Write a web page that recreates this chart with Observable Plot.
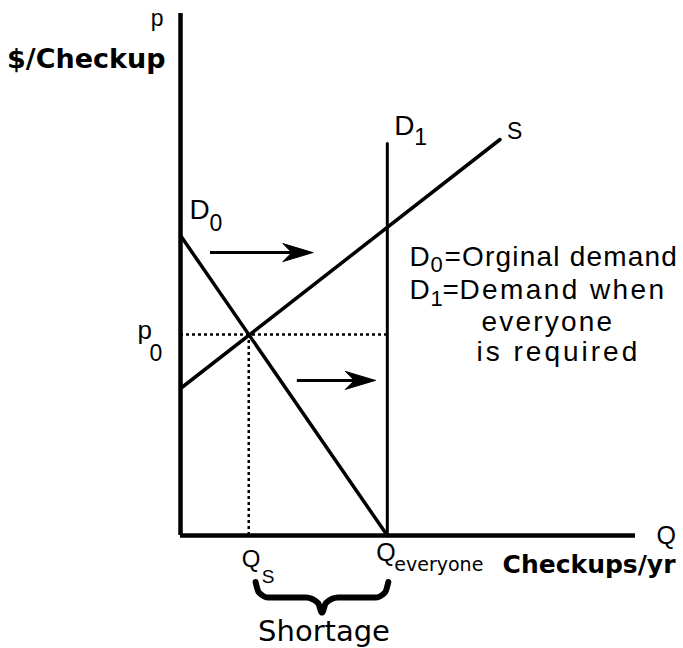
<!DOCTYPE html>
<html><head><meta charset="utf-8">
<script src="https://cdn.jsdelivr.net/npm/d3@7"></script>
<script src="https://cdn.jsdelivr.net/npm/@observablehq/plot@0.6"></script>
<style>html,body{margin:0;padding:0;background:#fff} #chart svg{display:block}</style>
</head><body><div id="chart"></div>
<script>
// ---- data (economic units) ----
const qMax = 22;          // end of quantity axis
const pMax = 17.4;        // top of price axis
const qS = 3.3;           // quantity supplied at p0
const qEveryone = 10;     // quantity demanded when everyone is required
const p0 = 6.7;           // equilibrium price
const supplyCurve = [{q: 0, p: 4.9}, {q: 15.45, p: 13.2}];
const demandOriginal = [{q: 0, p: 10}, {q: 10, p: 0}];
const demandEveryone = [{q: 10, p: 0}, {q: 10, p: 13.07}];
const shiftArrows = [{from: 1.45, to: 6.4, p: 9.43}, {from: 5.65, to: 9.42, p: 5.17}];
const legendLines = ["=Orginal demand", "Demand when", "everyone", "is required"];
// brace profile: fraction along the span, offset below the axis
const braceProfile = [[0, -1.55], [0.025, -1.9], [0.1, -2.07], [0.38, -2.07], [0.47, -2.25], [0.5, -2.57], [0.53, -2.25], [0.62, -2.07], [0.9, -2.07], [0.975, -1.9], [1, -1.55]];

// ---- derived geometry ----
const braceStart = qS + 0.33, braceEnd = qEveryone + 0.05;
const bracePts = braceProfile.map(([t, o]) => ({q: braceStart + t * (braceEnd - braceStart), p: o}));
const headL = 1.45, headW = 0.3;
const heads = shiftArrows.flatMap((a, i) => [
  {z: i, q: a.to, p: a.p}, {z: i, q: a.to - headL, p: a.p + headW},
  {z: i, q: a.to - 0.7 * headL, p: a.p}, {z: i, q: a.to - headL, p: a.p - headW}, {z: i, q: a.to, p: a.p}
]);

const F = "Liberation Sans", FB = "DejaVu Sans";
function label(q, p, text, opts) {
  return Plot.text([{q, p, text}], Object.assign({x: "q", y: "p", text: "text", textAnchor: "start", lineAnchor: "bottom", fill: "black", fontFamily: F}, opts));
}
function note(text, dx, dy, opts) {
  return Plot.text([text], Object.assign({frameAnchor: "top-left", text: d => d, dx, dy, textAnchor: "start", lineAnchor: "bottom", fill: "black", fontFamily: F, fontSize: 28}, opts));
}

const chart = Plot.plot({
  width: 683, height: 648,
  marginLeft: 180, marginRight: 48, marginTop: 13, marginBottom: 113,
  x: {domain: [0, qMax], axis: null},
  y: {domain: [0, pMax], axis: null},
  style: {background: "white", color: "black", fontFamily: F, overflow: "visible"},
  marks: [
    // dotted guides
    Plot.ruleY([p0], {x1: 0, x2: qEveryone, stroke: "black", strokeWidth: 2.5, strokeDasharray: "3,3"}),
    Plot.ruleX([qS], {y1: 0, y2: p0, stroke: "black", strokeWidth: 2.5, strokeDasharray: "3,3"}),
    // curves
    Plot.line(supplyCurve, {x: "q", y: "p", stroke: "black", strokeWidth: 3.5}),
    Plot.line(demandOriginal, {x: "q", y: "p", stroke: "black", strokeWidth: 3.5}),
    Plot.line(demandEveryone, {x: "q", y: "p", stroke: "black", strokeWidth: 3}),
    // axes
    Plot.ruleY([0], {x1: 0, x2: qMax, stroke: "black", strokeWidth: 4.5}),
    Plot.ruleX([0], {y1: 0, y2: pMax, stroke: "black", strokeWidth: 4.5}),
    // shift arrows
    Plot.ruleY(shiftArrows, {y: "p", x1: "from", x2: d => d.to - 1, stroke: "black", strokeWidth: 3}),
    Plot.line(heads, {x: "q", y: "p", z: "z", fill: "black", stroke: "black", strokeWidth: 1}),
    // brace
    Plot.line(bracePts, {x: "q", y: "p", curve: "monotone-x", stroke: "black", strokeWidth: 6, strokeLinecap: "round"}),
    // axis labels
    label(0, pMax, "p", {textAnchor: "end", dx: -17, dy: 12, fontSize: 23}),
    label(0, pMax, "$/Checkup", {textAnchor: "end", dx: -15, dy: 54, fontSize: 27, fontWeight: "bold", fontFamily: FB}),
    label(qMax, 0, "Q", {dx: 21, dy: 8, fontSize: 25}),
    label(qMax, 0, "Checkups/yr", {textAnchor: "end", dx: 40, dy: 37, fontSize: 25, fontWeight: "bold", fontFamily: FB}),
    // curve labels
    label(0, 10, "D", {dx: 9, dy: -17, fontSize: 28}),
    label(0, 10, "0", {dx: 29, dy: -5, fontSize: 23}),
    label(qEveryone, 13.07, "D", {dx: 7, dy: -8, fontSize: 28}),
    label(qEveryone, 13.07, "1", {dx: 27, dy: 2, fontSize: 23}),
    label(15.45, 13.2, "S", {dx: 7, dy: -1, fontSize: 23}),
    label(0, p0, "p", {dx: -43, dy: 4, fontSize: 26}),
    label(0, p0, "0", {dx: -31, dy: 26, fontSize: 23}),
    label(qS, 0, "Q", {dx: -7, dy: 31, fontSize: 24}),
    label(qS, 0, "S", {dx: 13, dy: 47, fontSize: 19}),
    label(qEveryone, 0, "Q", {dx: -11, dy: 25, fontSize: 25}),
    label(qEveryone, 0, "everyone", {dx: 7, dy: 35, fontSize: 19, fontFamily: FB}),
    label((qS + qEveryone) / 2, 0, "Shortage", {textAnchor: "middle", dx: 6, dy: 105, fontSize: 29, fontFamily: FB}),
    // legend
    note("D", 229, 252),
    note("0", 250, 258, {fontSize: 22}),
    note(legendLines[0], 264, 252),
    note("D", 229, 285),
    note("1", 250, 292, {fontSize: 22}),
    note("=", 262, 285),
    note(legendLines[1], 279, 285),
    note(legendLines[2], 301, 317),
    note(legendLines[3], 296, 347)
  ]
});
// wider letter spacing for the legend lettering only (28px Liberation texts)
const spacing = {"=Orginal demand": 1.2, "Demand when": 2.4, "everyone": 2.2, "is required": 3};
d3.select(chart).selectAll("text").each(function() {
  const s = spacing[this.textContent];
  const g = this.closest("g");
  if (s && g && g.getAttribute("font-size") === "28") this.setAttribute("letter-spacing", s);
});
document.getElementById("chart").appendChild(chart);
</script>
</body></html>
